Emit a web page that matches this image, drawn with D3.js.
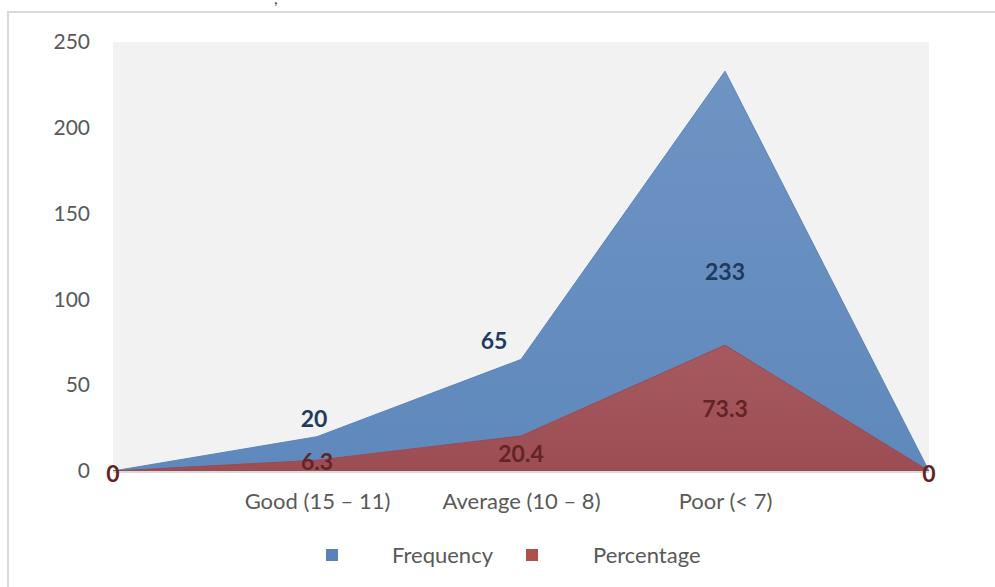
<!DOCTYPE html>
<html>
<head>
<meta charset="utf-8">
<script src="https://cdn.jsdelivr.net/npm/d3@7"></script>
<style>
  html, body { margin: 0; padding: 0; background: #ffffff; }
  svg { display: block; }
  text { font-family: Lato, "Open Sans", sans-serif; }
</style>
</head>
<body>
<svg id="chart" width="995" height="587"></svg>
<script>
// Categories along the x axis (blank ends anchor the areas at zero)
const categories = ["", "Good (15 – 11)", "Average (10 – 8)", "Poor (< 7)", " "];
// Series values
const frequency = [0, 20, 65, 233, 0];
const percentage = [0, 6.3, 20.4, 73.3, 0];
// Axis ticks
const yTicks = [0, 50, 100, 150, 200, 250];
const seriesNames = ["Frequency", "Percentage"];

const svg = d3.select("#chart");
const W = 995, H = 587;

// Outer chart frame
svg.append("rect")
  .attr("x", 8).attr("y", 12).attr("width", W + 10).attr("height", H + 10)
  .attr("fill", "#ffffff").attr("stroke", "#d9d9d9").attr("stroke-width", 2);

// Fragment of the heading above the frame
svg.append("text").attr("x", 274).attr("y", 4)
  .attr("font-size", 16).attr("fill", "#404040").text(",");

const plot = { left: 113, right: 929, top: 42, bottom: 471 };

svg.append("rect")
  .attr("x", plot.left).attr("y", plot.top)
  .attr("width", plot.right - plot.left).attr("height", plot.bottom - plot.top)
  .attr("fill", "#f2f2f2");

const x = d3.scalePoint().domain(d3.range(categories.length))
  .range([plot.left, plot.right]);
const y = d3.scaleLinear().domain([0, 250]).range([plot.bottom, plot.top]);

// Y axis labels
const yAxis = d3.axisLeft(y).tickValues(yTicks).tickSize(0).tickPadding(23);
const gy = svg.append("g").attr("transform", `translate(${plot.left},0)`).call(yAxis);
gy.select(".domain").remove();
gy.selectAll("text").attr("font-size", 21).attr("fill", "#595959")
  .attr("font-family", "Lato, 'Open Sans', sans-serif");

// Gradients for the area fills
const defs = svg.append("defs");
function grad(id, top, bottom) {
  const g = defs.append("linearGradient").attr("id", id)
    .attr("x1", 0).attr("y1", 0).attr("x2", 0).attr("y2", 1);
  g.append("stop").attr("offset", "0%").attr("stop-color", top);
  g.append("stop").attr("offset", "100%").attr("stop-color", bottom);
}
grad("gBlue", "#6e94c3", "#5f88bc");
grad("gRed", "#a65a5f", "#9c4d53");

const area = d3.area()
  .x((d, i) => x(i))
  .y0(y(0))
  .y1(d => y(d));

svg.append("path").datum(frequency).attr("d", area)
  .attr("fill", "url(#gBlue)").attr("stroke", "#5b84b9").attr("stroke-width", 1);
svg.append("path").datum(percentage).attr("d", area)
  .attr("fill", "url(#gRed)").attr("stroke", "#9a4b51").attr("stroke-width", 1);

// Baseline
svg.append("line")
  .attr("x1", plot.left).attr("x2", plot.right)
  .attr("y1", plot.bottom + 1).attr("y2", plot.bottom + 1)
  .attr("stroke", "#d9d9d9").attr("stroke-width", 2);

// Category labels
const xAxis = d3.axisBottom(x).tickSize(0).tickPadding(22)
  .tickFormat(i => categories[i]);
const gx = svg.append("g").attr("transform", `translate(0,${plot.bottom})`).call(xAxis);
gx.select(".domain").remove();
gx.selectAll("text").attr("font-size", 22).attr("fill", "#595959")
  .attr("font-family", "Lato, 'Open Sans', sans-serif");

// Data labels: centred in the band when there is room, otherwise above the point
const labelStyle = sel => sel.attr("font-size", 23).attr("font-weight", "bold")
  .attr("text-anchor", "middle").attr("dominant-baseline", "central");

frequency.forEach((v, i) => {
  if (v === 0) return;
  const centred = v / 2 - percentage[i] > 20;
  const ly = centred ? y(v / 2) : y(v) - 19;
  const lx = centred ? x(i) : x(i) - (i === 2 ? 27 : 3);
  svg.append("text").call(labelStyle)
    .attr("x", lx).attr("y", ly).attr("fill", "#1f3a5f").text(v);
});

percentage.forEach((v, i) => {
  const ly = v === 0 ? y(0) + 2 : y(v / 2) - (i === 1 ? 5 : 0);
  svg.append("text").call(labelStyle)
    .attr("x", x(i)).attr("y", ly).attr("fill", "#632523").text(v);
});

// Legend
const legend = [
  { name: seriesNames[0], color: "#5a82b8", sx: 326, tx: 392 },
  { name: seriesNames[1], color: "#b0504d", sx: 526, tx: 593 }
];
legend.forEach(d => {
  svg.append("rect").attr("x", d.sx).attr("y", 549).attr("width", 12).attr("height", 12)
    .attr("fill", d.color);
  svg.append("text").attr("x", d.tx).attr("y", 563)
    .attr("font-size", 22).attr("fill", "#595959").text(d.name);
});
</script>
</body>
</html>
